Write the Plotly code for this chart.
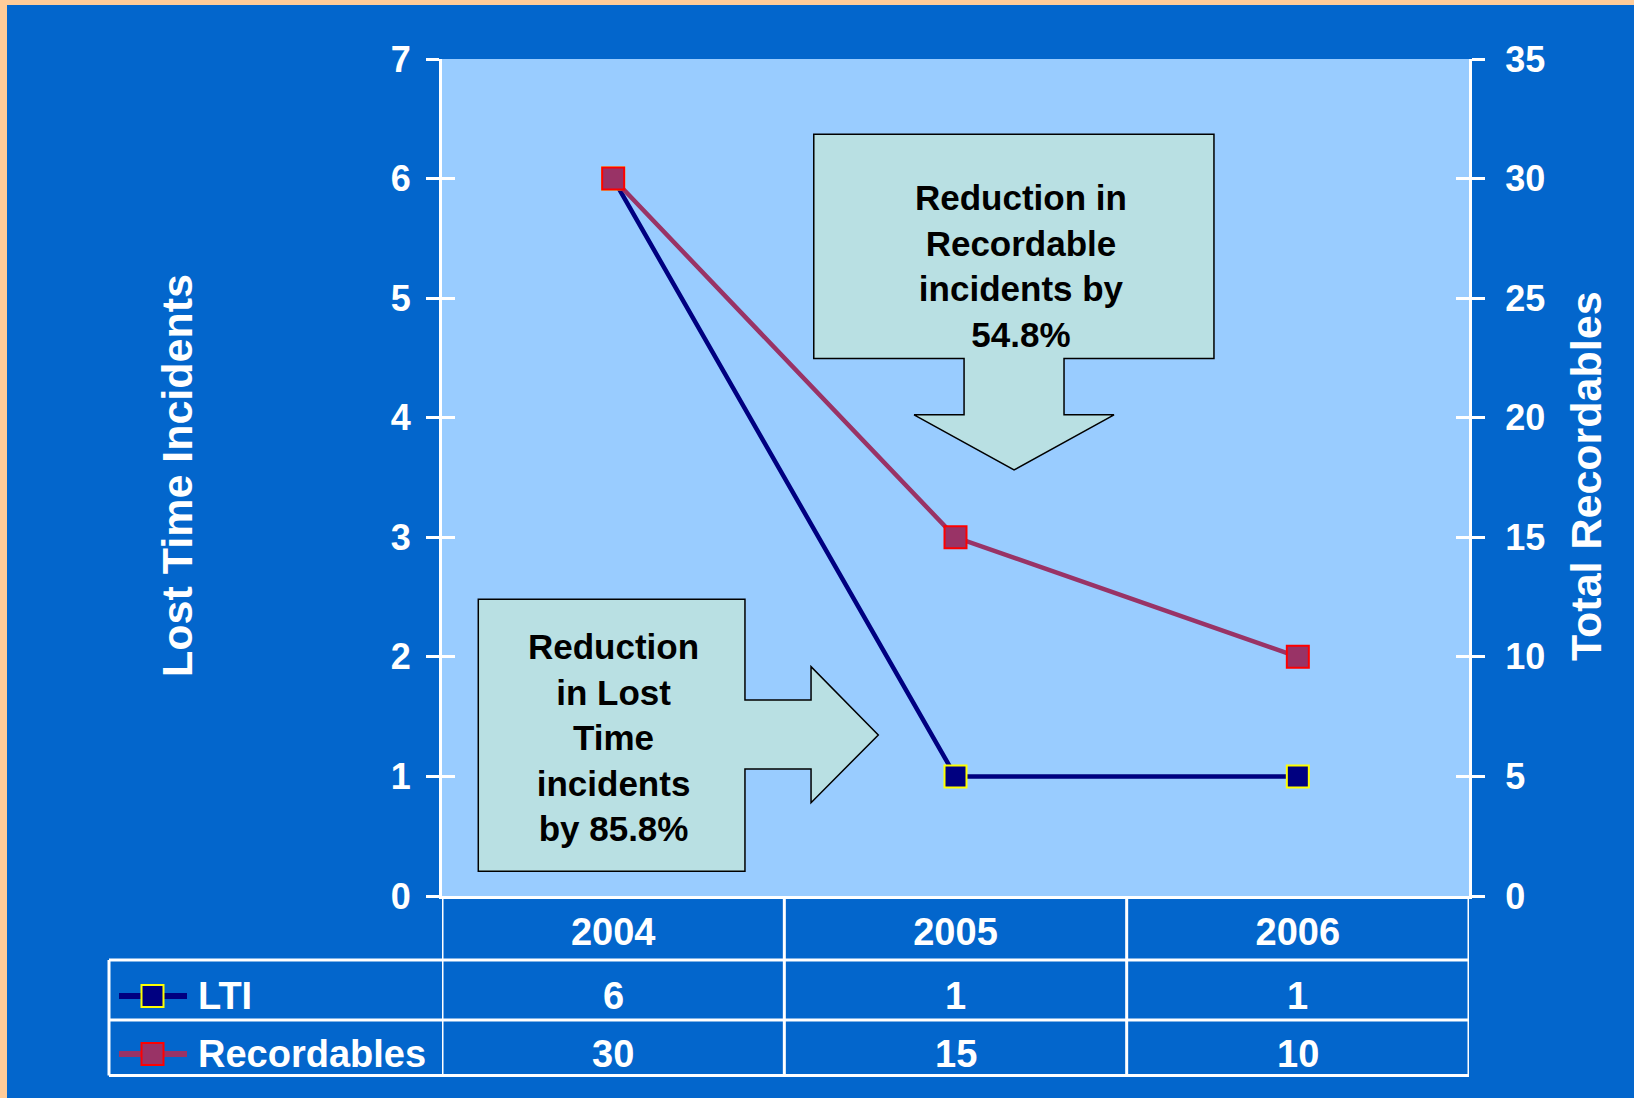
import plotly.graph_objects as go

# ---- data ----
years = ["2004", "2005", "2006"]
lti = [6, 1, 1]
recordables = [30, 15, 10]
series_names = ["LTI", "Recordables"]
left_title = "Lost Time Incidents"
right_title = "Total Recordables"
note_rec = "Reduction in<br>Recordable<br>incidents by<br>54.8%"
note_lti = "Reduction<br>in Lost<br>Time<br>incidents<br>by 85.8%"

# ---- styles ----
BG = "#0366CC"
PLOT_BG = "#99CCFF"
CALL = "#B9E0E3"
BORDER = "#FFCC99"
LTI_C = "#000080"
REC_C = "#993366"
FONT = "Arial, Liberation Sans, sans-serif"
W, H = 1634, 1098
L, R, T, B = 442, 165, 59, 202

fig = go.Figure()
fig.add_trace(go.Scatter(
    x=years, y=lti, name=series_names[0], mode="lines+markers",
    line=dict(color=LTI_C, width=4.5),
    marker=dict(symbol="square", size=22, color=LTI_C, line=dict(color="#FFFF00", width=2)),
    yaxis="y"))
fig.add_trace(go.Scatter(
    x=years, y=recordables, name=series_names[1], mode="lines+markers",
    line=dict(color=REC_C, width=4.5),
    marker=dict(symbol="square", size=22, color=REC_C, line=dict(color="#FF0000", width=2)),
    yaxis="y2"))
# invisible helpers so the overlay axes (inside half of the crossing ticks) render
fig.add_trace(go.Scatter(x=[years[0]], y=[0], yaxis="y3", mode="markers",
                         marker=dict(opacity=0), hoverinfo="skip", showlegend=False))
fig.add_trace(go.Scatter(x=[years[0]], y=[0], yaxis="y4", mode="markers",
                         marker=dict(opacity=0), hoverinfo="skip", showlegend=False))

tickfont = dict(family=FONT, size=36, color="white", weight="bold")
base_y = dict(showgrid=False, zeroline=False, showline=True, linecolor="white", linewidth=3,
              tickcolor="white", tickwidth=3, ticklen=13)

fig.update_layout(
    width=W, height=H, autosize=False,
    margin=dict(l=L, r=R, t=T, b=B, pad=0),
    paper_bgcolor=BG, plot_bgcolor=PLOT_BG,
    showlegend=False,
    xaxis=dict(type="category", range=[-0.5, 2.5], showgrid=False, zeroline=False,
               showline=True, linecolor="white", linewidth=3, ticks="",
               tickfont=dict(family=FONT, size=38, color="white", weight="bold"),
               ticklabelstandoff=0),
    yaxis=dict(range=[0, 7], dtick=1, ticks="outside", ticklabelstandoff=8,
               tickfont=tickfont, **base_y),
    yaxis2=dict(range=[0, 35], dtick=5, ticks="outside", side="right", overlaying="y",
                ticklabelstandoff=13, tickfont=tickfont, **base_y),
    yaxis3=dict(range=[0, 7], dtick=1, ticks="inside", overlaying="y", showticklabels=False,
                **base_y),
    yaxis4=dict(range=[0, 35], dtick=5, ticks="inside", side="right", overlaying="y",
                showticklabels=False, **base_y),
)


def px(X):
    return (X - L) / (W - L - R)


def py(Y):
    return (H - B - Y) / (H - T - B)


shapes = []
# orange border strips (left & top)
shapes.append(dict(type="rect", xref="paper", yref="paper", x0=px(0), x1=px(7), y0=py(0), y1=py(H),
                   fillcolor=BORDER, line=dict(width=0), layer="above"))
shapes.append(dict(type="rect", xref="paper", yref="paper", x0=px(0), x1=px(W), y0=py(0), y1=py(5),
                   fillcolor=BORDER, line=dict(width=0), layer="above"))

# callouts (down arrow and right arrow), in data units
down_path = ("M 0.586 6.370 L 1.755 6.370 L 1.755 4.495 L 1.317 4.495 L 1.317 4.024 "
             "L 1.463 4.024 L 1.171 3.563 L 0.879 4.024 L 1.025 4.024 L 1.025 4.495 "
             "L 0.586 4.495 Z")
right_path = ("M -0.394 2.482 L 0.385 2.482 L 0.385 1.639 L 0.578 1.639 L 0.578 1.918 "
              "L 0.7745 1.347 L 0.578 0.780 L 0.578 1.062 L 0.385 1.062 L 0.385 0.207 "
              "L -0.394 0.207 Z")
for p in (down_path, right_path):
    shapes.append(dict(type="path", xref="x", yref="y", path=p, fillcolor=CALL,
                       line=dict(color="black", width=1.5), layer="above"))

# table grid
yl1, yl2, yl3 = py(960), py(1020), py(1075.5)
x_left = px(109)
for xv in (-0.5, 0.5, 1.5, 2.5):
    shapes.append(dict(type="line", xref="x", yref="paper", x0=xv, x1=xv, y0=0, y1=yl3,
                       line=dict(color="white", width=3)))
shapes.append(dict(type="line", xref="paper", yref="paper", x0=x_left, x1=x_left, y0=yl1, y1=yl3,
                   line=dict(color="white", width=3)))
for yv in (yl1, yl2, yl3):
    shapes.append(dict(type="line", xref="paper", yref="paper", x0=x_left, x1=1, y0=yv, y1=yv,
                       line=dict(color="white", width=3)))

# legend samples in the table
row_y = [py(996), py(1054)]
hw, hh = 11 / (W - L - R), 11 / (H - T - B)
for (c, bc), yv in zip([(LTI_C, "#FFFF00"), (REC_C, "#FF0000")], row_y):
    shapes.append(dict(type="line", xref="paper", yref="paper", x0=px(119), x1=px(187),
                       y0=yv, y1=yv, line=dict(color=c, width=6)))
    shapes.append(dict(type="rect", xref="paper", yref="paper", x0=px(152.5) - hw, x1=px(152.5) + hw,
                       y0=yv - hh, y1=yv + hh, fillcolor=c, line=dict(color=bc, width=2)))
fig.update_layout(shapes=shapes)

ann = []
tfont = dict(family=FONT, size=38, color="white", weight="bold")
for name, yv in zip(series_names, row_y):
    ann.append(dict(text=name, xref="paper", yref="paper", x=px(196), y=yv, xanchor="left",
                    yanchor="middle", showarrow=False, font=tfont))
for i in range(len(years)):
    ann.append(dict(text=str(lti[i]), xref="x", yref="paper", x=i, y=row_y[0], showarrow=False,
                    font=tfont, xanchor="center", yanchor="middle"))
    ann.append(dict(text=str(recordables[i]), xref="x", yref="paper", x=i, y=row_y[1],
                    showarrow=False, font=tfont, xanchor="center", yanchor="middle"))
# axis titles
title_font = dict(family=FONT, size=43, color="white", weight="bold")
ann.append(dict(text=left_title, xref="paper", yref="paper", x=px(177), y=py(476), textangle=-90,
                xanchor="center", yanchor="middle", showarrow=False, font=title_font))
ann.append(dict(text=right_title, xref="paper", yref="paper", x=px(1586), y=py(476), textangle=-90,
                xanchor="center", yanchor="middle", showarrow=False, font=title_font))
# callout texts
cfont = dict(family=FONT, size=35, color="black", weight="bold")
ann.append(dict(text=note_rec, xref="x", yref="y", x=1.192, y=5.266, showarrow=False, font=cfont,
                xanchor="center", yanchor="middle"))
ann.append(dict(text=note_lti, xref="x", yref="y", x=0.0, y=1.327, showarrow=False, font=cfont,
                xanchor="center", yanchor="middle"))
fig.update_layout(annotations=ann)

fig.write_html(
    "out.html",
    config={"displayModeBar": False},
    post_script="document.body.style.margin='0';document.body.style.overflow='hidden';"
                "document.body.style.background='" + BG + "';",
)
